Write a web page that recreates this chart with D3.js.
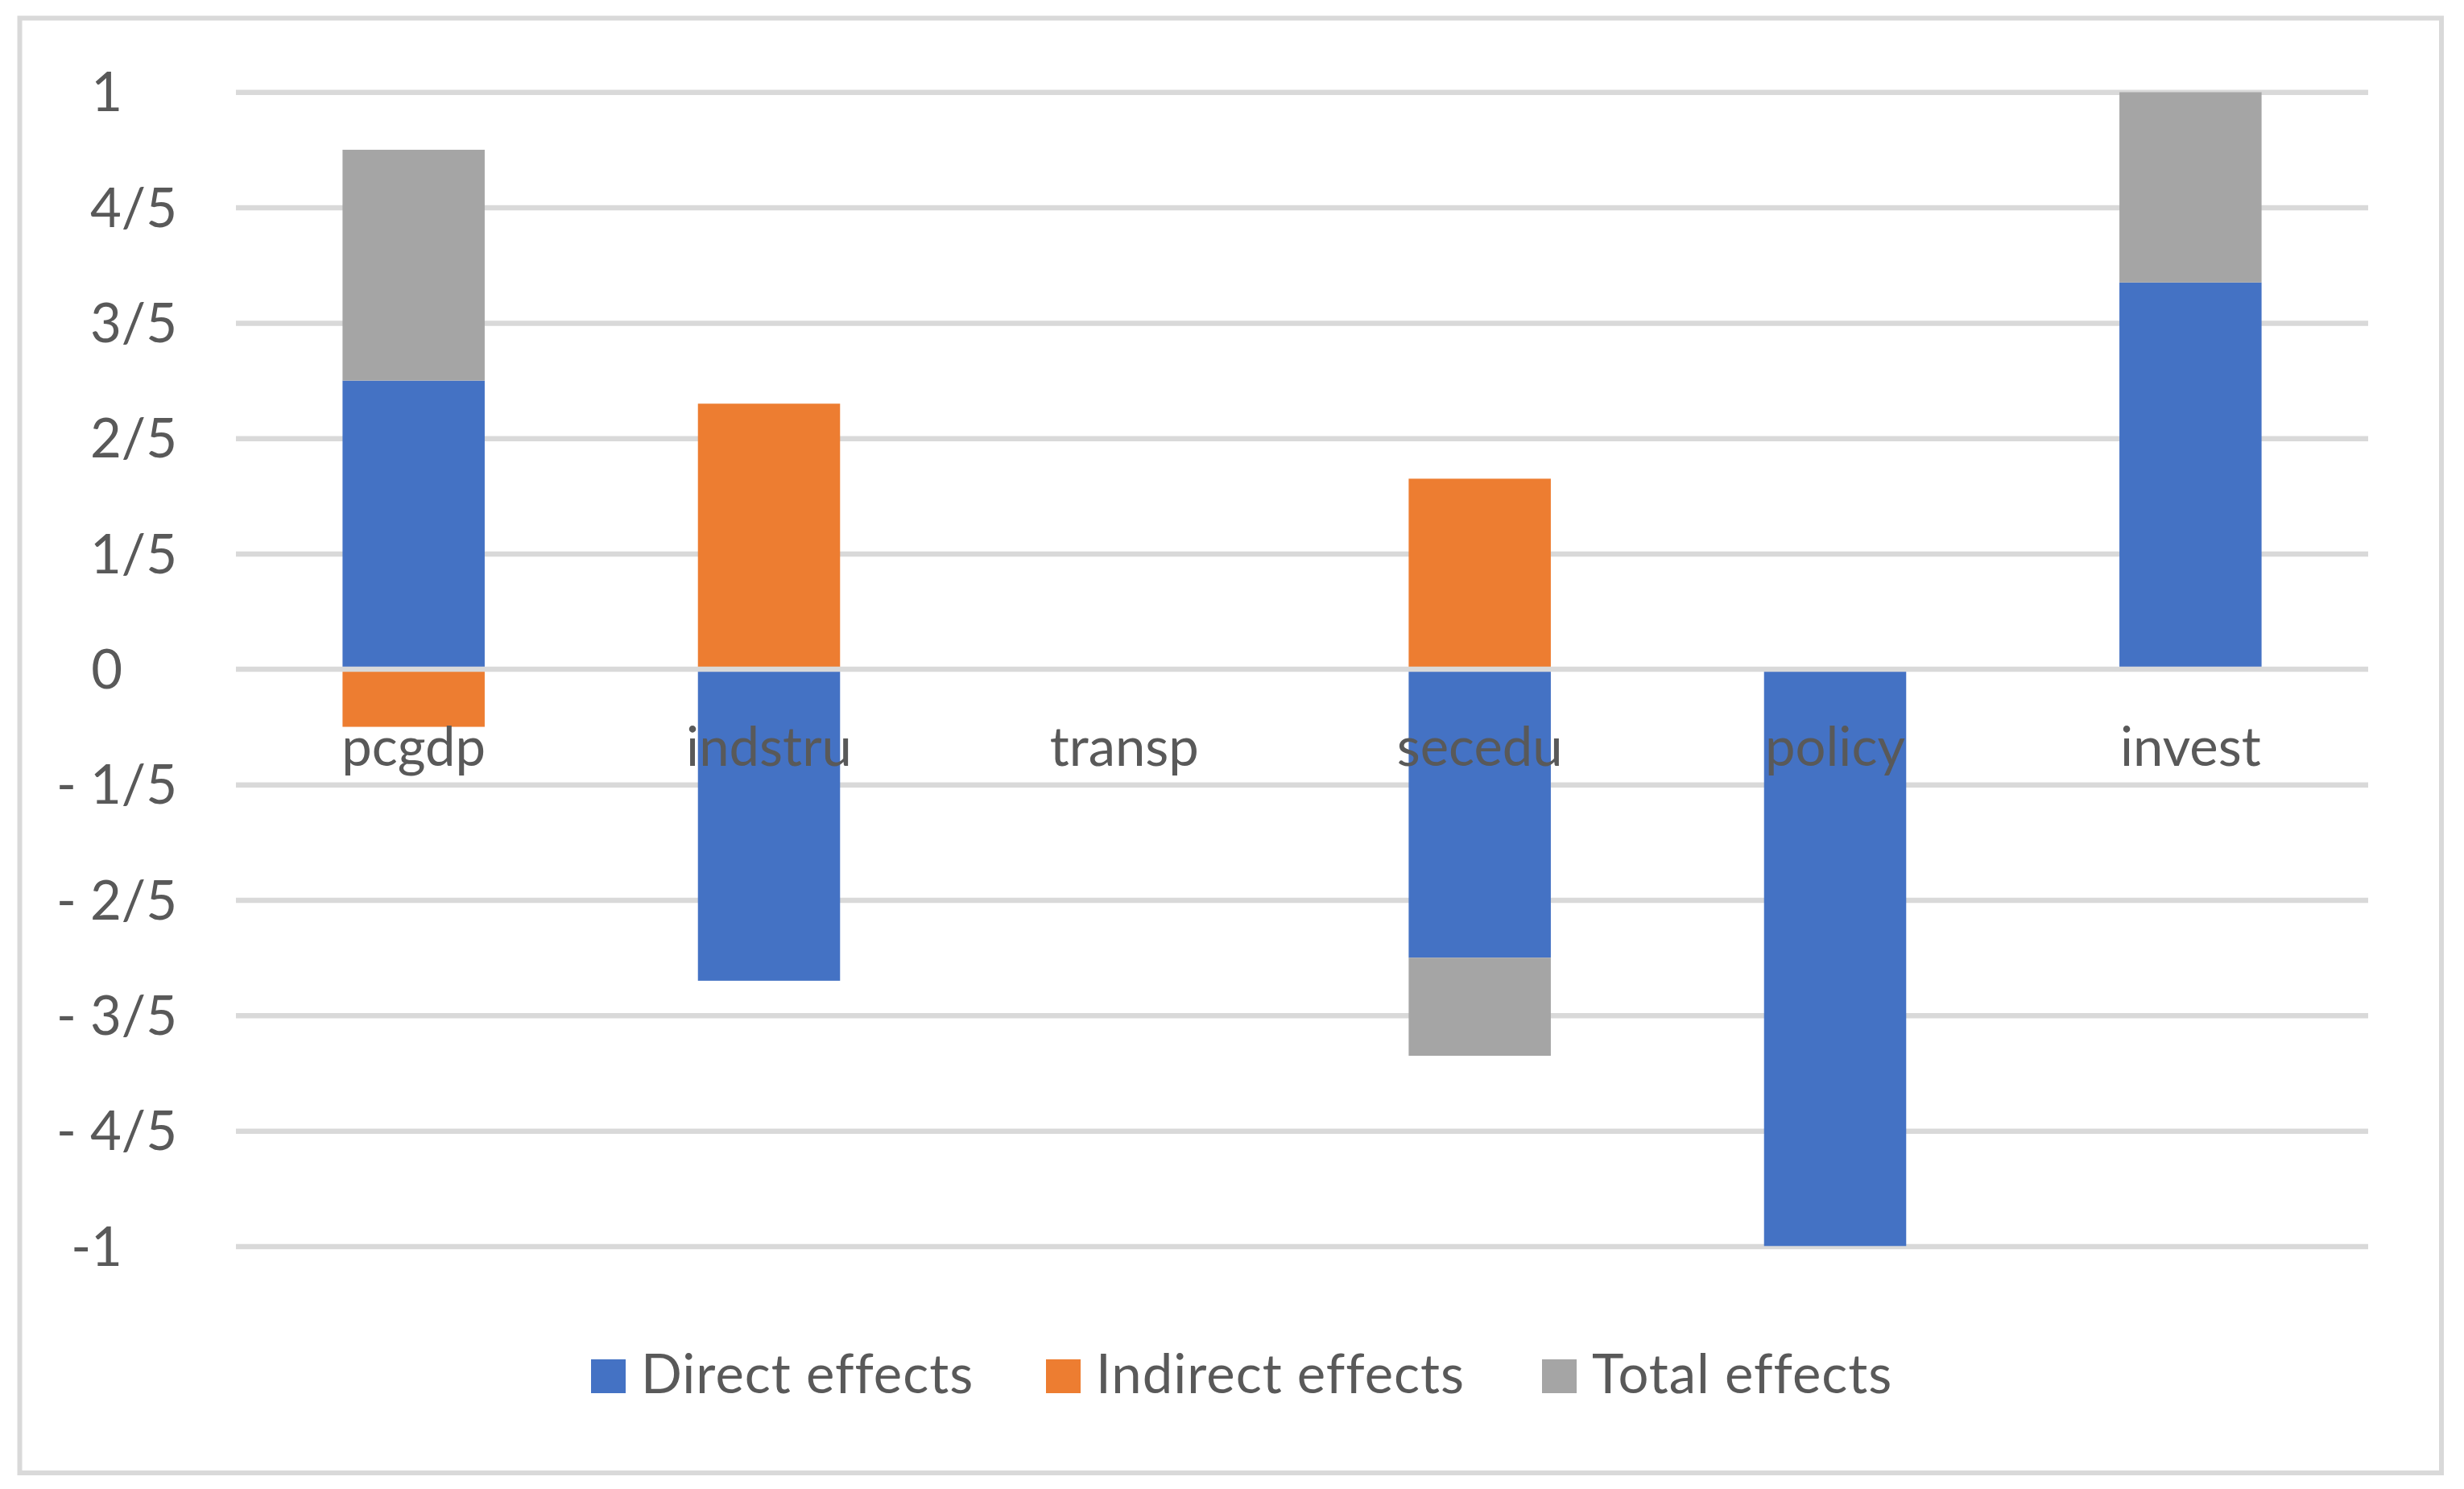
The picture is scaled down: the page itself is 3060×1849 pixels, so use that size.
<!DOCTYPE html>
<html>
<head>
<meta charset="utf-8">
<script src="https://cdn.jsdelivr.net/npm/d3@7/dist/d3.min.js"></script>
<style>
  html, body { margin: 0; padding: 0; background: #ffffff; }
  svg { display: block; }
  text { font-family: Lato, "Open Sans", "Noto Sans", sans-serif; fill: #595959; }
</style>
</head>
<body>
<svg id="chart" width="3060" height="1849"></svg>
<script>
// ---- data ----
const categories = ["pcgdp", "indstru", "transp", "secedu", "policy", "invest"];
const seriesNames = ["Direct effects", "Indirect effects", "Total effects"];
const directEffects   = [0.50, -0.54, 0.00, -0.50, -1.00, 0.67];
const indirectEffects = [-0.10, 0.46, 0.00, 0.33, 0.00, 0.00];
const totalEffects    = [0.40, 0.00, 0.00, -0.17, 0.00, 0.33];
const tickValues = [1, 0.8, 0.6, 0.4, 0.2, 0, -0.2, -0.4, -0.6, -0.8, -1];
const tickLabels = ["1", "4/5", "3/5", "2/5", "1/5", "0", "- 1/5", "- 2/5", "- 3/5", "- 4/5", "-1"];
const colors = ["#4472C4", "#ED7D31", "#A5A5A5"];

// ---- layout ----
const W = 3060, H = 1849;
const plot = { left: 293, right: 2941, top: 114.3, bottom: 1547.5 };
const fontSize = 67;

const svg = d3.select("#chart");
svg.append("rect").attr("width", W).attr("height", H).attr("fill", "#ffffff");
svg.append("rect")
  .attr("x", 24.5).attr("y", 22.5)
  .attr("width", 3032 - 24.5).attr("height", 1829 - 22.5)
  .attr("fill", "none").attr("stroke", "#D9D9D9").attr("stroke-width", 6);

const x = d3.scaleBand().domain(categories)
  .range([plot.left, plot.right]).paddingInner(0.6).paddingOuter(0.3);
const y = d3.scaleLinear().domain([-1, 1]).range([plot.bottom, plot.top]);

// gridlines (behind bars)
const yAxis = d3.axisLeft(y).tickValues(tickValues.filter(v => v !== 0))
  .tickSize(-(plot.right - plot.left)).tickFormat("");
const gGrid = svg.append("g").attr("transform", `translate(${plot.left},0)`).call(yAxis);
gGrid.select(".domain").remove();
gGrid.selectAll(".tick line").attr("stroke", "#D9D9D9").attr("stroke-width", 6.5);

// stacked data
const rows = categories.map((c, i) => ({
  cat: c,
  "Direct effects": directEffects[i],
  "Indirect effects": indirectEffects[i],
  "Total effects": totalEffects[i]
}));
const stacked = d3.stack().keys(seriesNames).offset(d3.stackOffsetDiverging)(rows);

svg.append("clipPath").attr("id", "plotClip")
  .append("rect").attr("x", plot.left).attr("y", plot.top)
  .attr("width", plot.right - plot.left).attr("height", plot.bottom - plot.top);

const gBars = svg.append("g").attr("clip-path", "url(#plotClip)");
gBars.selectAll("g.series").data(stacked).join("g")
  .attr("class", "series")
  .attr("fill", (d, i) => colors[i])
  .selectAll("rect").data(d => d).join("rect")
  .attr("x", d => x(d.data.cat))
  .attr("width", x.bandwidth())
  .attr("y", d => y(Math.max(d[0], d[1])))
  .attr("height", d => Math.abs(y(d[0]) - y(d[1])));

// zero axis line (on top of bars)
svg.append("line")
  .attr("x1", plot.left).attr("x2", plot.right)
  .attr("y1", y(0)).attr("y2", y(0))
  .attr("stroke", "#D9D9D9").attr("stroke-width", 6.5);

// y tick labels
svg.append("g").selectAll("text").data(tickValues).join("text")
  .attr("x", (d, i) => tickLabels[i].includes("/") ? 220 : 152)
  .attr("y", d => y(d))
  .attr("dy", "0.36em")
  .attr("text-anchor", "end")
  .attr("font-size", fontSize)
  .text((d, i) => tickLabels[i]);

// category labels (next to axis)
svg.append("g").selectAll("text").data(categories).join("text")
  .attr("x", d => x(d) + x.bandwidth() / 2)
  .attr("y", y(0) + 120)
  .attr("text-anchor", "middle")
  .attr("font-size", fontSize)
  .text(d => d);

// legend
const legendX = [734, 1299, 1915];
const legend = svg.append("g").selectAll("g").data(seriesNames).join("g")
  .attr("transform", (d, i) => `translate(${legendX[i]},1688)`);
legend.append("rect").attr("width", 43).attr("height", 42).attr("fill", (d, i) => colors[i]);
legend.append("text").attr("x", 62).attr("y", 42)
  .attr("font-size", fontSize).attr("letter-spacing", 1)
  .text(d => d);
</script>
</body>
</html>
